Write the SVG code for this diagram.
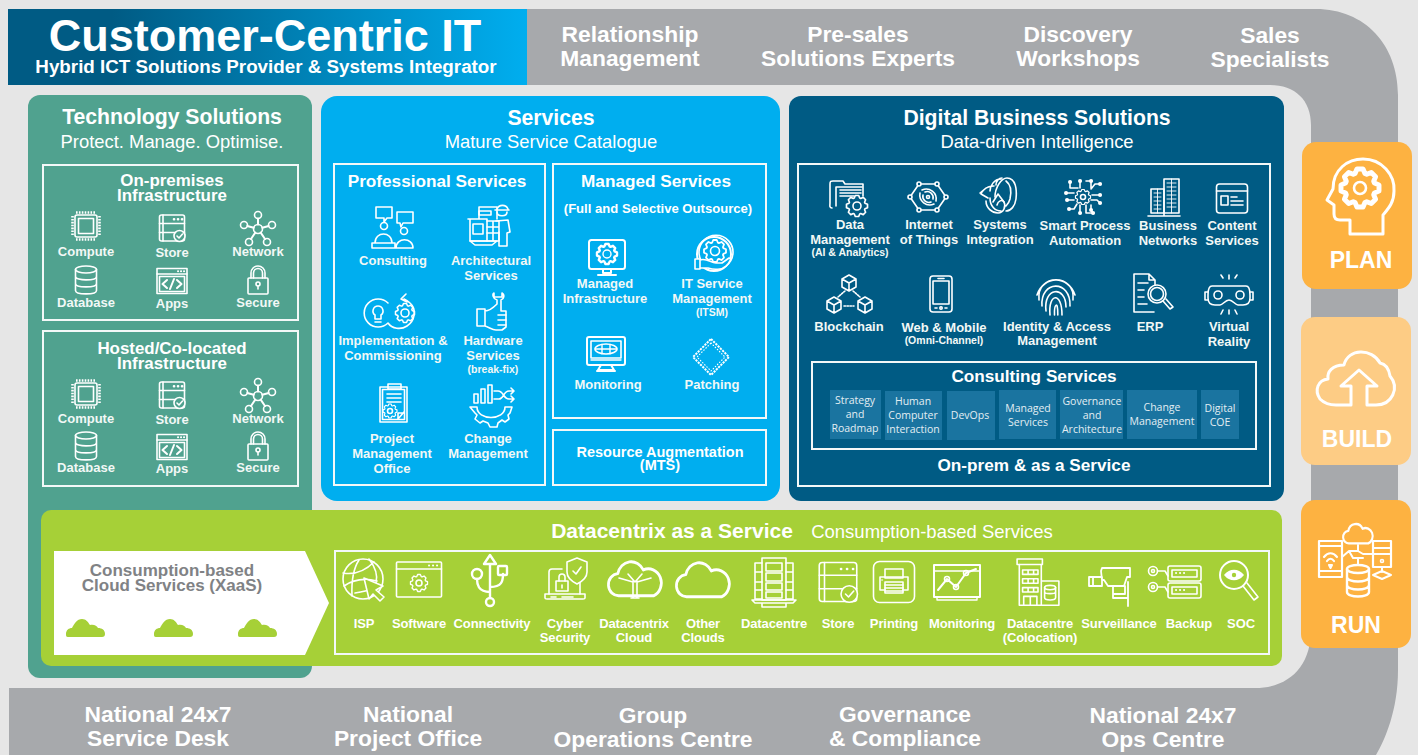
<svg xmlns="http://www.w3.org/2000/svg" width="1418" height="755" viewBox="0 0 1418 755">
<style>
text{font-family:"Liberation Sans",Arial,sans-serif;text-anchor:middle;fill:#fff}
.b{font-weight:700}
.bn{font-weight:700;font-size:22.800px;fill:#fff}
.h{font-weight:700;font-size:21.200px}
.sub{font-size:18.400px}
.h2{font-weight:700;font-size:17.200px}
.h3{font-weight:700;font-size:16.900px}
.l{font-weight:700;font-size:13px;fill:#f2f8f6}
.m{font-weight:700;font-size:10.500px;fill:#f2f8f6}
.c{font-family:"Open Sans",sans-serif;font-size:10.500px;fill:#e3eef3}
.d{font-weight:700;font-size:13px;letter-spacing:-.1px}
.o{fill:none;stroke:#f3f8f8;stroke-width:2}
.t{fill:#1a74a0}
.i{fill:none;stroke:#fff;stroke-width:1.600;stroke-linejoin:round;stroke-linecap:round}
.i *{vector-effect:non-scaling-stroke}
.g{fill:#a6d037;stroke:#fff}
.cl{fill:#a6d037}
.pl{font-weight:700;font-size:23px}
</style>
<defs>
<linearGradient id="tg" x1="0" x2="1" y1="0" y2="0"><stop offset=".2" stop-color="#005b84"/><stop offset="1" stop-color="#00aeef"/></linearGradient>
<path id="gear" d="M-2.600-7.600-1.600-10 1.600-10 2.600-7.600 3.530-7.210 5.940-8.200 8.200-5.940 7.210-3.530 7.600-2.600 10-1.600 10 1.600 7.600 2.600 7.210 3.530 8.200 5.940 5.940 8.200 3.530 7.210 2.600 7.600 1.600 10-1.600 10-2.600 7.600-3.530 7.210-5.940 8.200-8.200 5.940-7.210 3.530-7.600 2.600-10 1.600-10-1.600-7.600-2.600-7.210-3.530-8.200-5.940-5.940-8.200-3.530-7.210Z"/>
<path id="cloud" d="M-10 8a6 6 0 0 1-1-12a8 8 0 0 1 15-2a6.500 6.500 0 0 1 6 14Z"/>
<g id="i-compute" class="i"><rect x="-11" y="-11" width="22" height="22" rx="2"/><rect x="-7.500" y="-7.500" width="15" height="15"/><path d="M-10-13.500H10M-10 13.500H10M-13.500-10V10M13.500-10V10" stroke-width="2.600" stroke-linecap="butt" stroke-dasharray="1.600 1.300"/></g>
<g id="i-store" class="i"><rect x="-12.500" y="-13" width="25" height="26" rx="2"/><path d="M-12.500-4.500H12.500M-12.500 4.500H12.500M-9-13V13"/><path d="M2-8.700h.1M6-8.700h.1M10-8.700h.1" stroke-width="2.600"/><circle cx="7.500" cy="8" r="5.500" fill="currentColor" stroke="#fff"/><path d="M5 8l2 2 3.500-4"/></g>
<g id="i-network" class="i"><circle r="4.500"/><circle cy="-14" r="3.500"/><circle cx="-14" cy="-4" r="3.500"/><circle cx="14" cy="-4" r="3.500"/><circle cx="-9" cy="13" r="3.500"/><circle cx="9" cy="13" r="3.500"/><path d="M0-4.500V-10.500M-4.300-1.300-10.700-3M4.300-1.300 10.700-3M-2.700 3.600-7 10M2.700 3.600 7 10" stroke-width="2"/></g>
<g id="i-database" class="i"><ellipse cy="-10.500" rx="10.500" ry="3.500"/><path d="M-10.500-10.500V10.500C-10.500 15 10.500 15 10.500 10.500V-10.500M-10.500-3.500C-10.500 1 10.500 1 10.500-3.500M-10.500 3.500C-10.500 8 10.500 8 10.500 3.500"/></g>
<g id="i-apps" class="i"><rect x="-15" y="-12.500" width="30" height="25"/><path d="M-15-7H15"/><rect x="-12.500" y="-4.500" width="25" height="15"/><path d="M-5-1-9.500 3-5 7M5-1 9.500 3 5 7M2-2-2 8" stroke-width="2"/><path d="M6-9.700h.1M9-9.700h.1M12-9.700h.1" stroke-width="2"/></g>
<g id="i-secure" class="i"><rect x="-10" y="-2" width="20" height="16" rx="1"/><path d="M-7-2V-7A7 7 0 0 1 7-7V-2M-4.500-2V-7A4.500 4.500 0 0 1 4.500-7V-2"/><circle cy="4" r="2"/><path d="M0 6V9"/></g>
<g id="i-consult" class="i"><path d="M-17-21H-1V-10H-6L-9-6-9-10H-17ZM4-16H20V-5H10L8-1 7-5H4Z"/><circle cx="-9" cy="-2" r="3.500"/><circle cx="11" cy="3" r="3.500"/><path d="M-18 15C-18 3-1 3-1 15M3 20C3 9 20 9 20 20M-21 15H2V20H20M-21 15V20H3"/></g>
<g id="i-arch" class="i"><path d="M-19-8H-2V14H-19ZM-21-8H-10V-20H8V-8M-16-3H-6V7H-16Z"/><path d="M-2-6H10V14H-2M-2 0H10M-2 6H10M4-6V14M-10-16H2V-12H-10Z"/><path d="M8-18A6 6 0 0 1 19-18M6-17H20M8-15C8-10 18-10 18-15M7-6L19-7 21 5 18 6V19H10V5M-19 14H8L3 18H-14Z"/></g>
<g id="i-impl" class="i"><path d="M-3-9A14 14 0 1 0-3 11C1 17 10 18 16 14C24 9 26-3 19-9C17-11 15-12 13-13M15-18 10-13 16-10"/><path d="M-13-6A5 5 0 0 0-16 3V7H-10V3A5 5 0 0 0-13-6ZM-16 10H-10"/><use href="#gear" transform="translate(14,1) scale(.95)"/><circle cx="14" cy="1" r="4"/></g>
<g id="i-hw" class="i"><path d="M-16-3H-8V14H-16ZM-8-1C-3-1 1-5 4-8V-12C0-13-1-18 1-19V-15H9V-19C12-17 11-13 8-12V-1H13V15L9 18H3C-1 18-4 15-8 14"/><path d="M5 3H13M5 8H13M5 13H13"/></g>
<g id="i-pmo" class="i"><rect x="-14" y="-17" width="27" height="35"/><rect x="-11.500" y="-14.500" width="22" height="30"/><rect x="-6" y="-20" width="13" height="5"/><path d="M-7-10H7M-7-6H7M-7-2H7M4 15 10 8M4 15V9H10"/><use href="#gear" transform="translate(-4,7) scale(.7)"/><circle cx="-4" cy="7" r="2.500"/></g>
<g id="i-change" class="i"><path d="M-17-11H-13V-2H-17ZM-10-16H-6V-2H-10ZM-3-20H1V-2H-3ZM3-14H7C13-14 12-6 18-6H22M3-6H8C13-6 12-14 18-14H22M20-17 23-14 20-11M20-9 23-6 20-3"/><path d="M-21 2H-14C-14 16 14 16 14 2H21L19 8 17 10 18 14 14 17 11 15 7 18 6 22H-1L-3 18-8 16-11 18-16 14-14 10-16 8Z"/></g>
<g id="i-minfra" class="i"><rect x="-18" y="-16" width="36" height="29" rx="2.500" stroke-width="2"/><path d="M-4 13V17H4V13M-9 19H9" stroke-width="2"/><use href="#gear" transform="translate(0,-2) scale(1)" stroke-width="2.400"/><circle cy="-2" r="4" stroke-width="1.400"/></g>
<g id="i-itsm" class="i"><path d="M-8 12A17 17 0 1 1 12 12"/><circle r="17" stroke-width="2"/><use href="#gear" transform="translate(1,-3) scale(1.100)"/><circle cx="1" cy="-3" r="4.500"/><path d="M-19 5H-14V15H-19ZM-14 6C-8 4-4 8 2 9H8L15 4C18 4 16 8 12 12C8 16 0 16-6 14H-14" fill="#00aeef"/></g>
<g id="i-mon" class="i"><rect x="-19" y="-17" width="38" height="28" rx="2" stroke-width="2"/><rect x="-15" y="-13" width="30" height="17"/><ellipse cy="-5" rx="11" ry="5"/><path d="M-4-9.500V-.5M4-9.500V-.5M-10-5H10M-15 6H15" stroke-width="1.400"/><path d="M-5 11-8 16H8L5 11M-9 17H9" stroke-width="2"/></g>
<g id="i-patch" class="i"><path d="M0-18 18 0 0 18-18 0Z" stroke-width="2" stroke-linecap="butt" stroke-dasharray="2.200 1"/><path d="M0-14 14 0 0 14-14 0Z" stroke-dasharray=".5 2.500" stroke-width="1.200"/></g>
<g id="i-data" class="i"><path d="M-17 10C-20 10-19 7-19 5V-14C-19-17-18-17-16-17H-6L-4-14H14V-2"/><path d="M-13 8V-11H13M-9-8H12M-9-5H12M-9-2H5"/><use href="#gear" transform="translate(8,8) scale(1.050)" fill="#005b84"/><circle cx="8" cy="8" r="4"/></g>
<g id="i-iot" class="i"><path d="M-9-13H9L18 0 9 13H-9L-18 0Z"/><circle cx="-9" cy="-13" r="2" fill="#005b84"/><circle cx="9" cy="-13" r="2" fill="#005b84"/><circle cx="18" r="2" fill="#005b84"/><circle cx="9" cy="13" r="2" fill="#005b84"/><circle cx="-9" cy="13" r="2" fill="#005b84"/><circle cx="-18" r="2" fill="#005b84"/><circle r="1.500"/><path d="M-3-5A6 6 0 0 1 5 2M-6-7A10 10 0 0 1 8 4M3 5A6 6 0 0 1-5-2M6 7A10 10 0 0 1-8-4"/></g>
<g id="i-sys" class="i"><path d="M-4-10C-14-10-17-2-17-2L-10 2M3-17C-4-17-8-10-8-5M-8 2C-8 10-3 15 3 15M-3 1C-3-8 3-18 9-18C18-18 19-6 18 3 17 10 13 15 8 15M-2-11C-2-15 1-18 4-18M8-15C12-12 14-6 12 3C11 7 10 8 8 10M-12-8-18-3M-12 5C-12 12-6 17 0 17 6 17 8 10 6 6 4 3 0 5-1 9"/><path d="M-5 6 0-2 6 6"/></g>
<g id="i-spa" class="i"><use href="#gear" transform="scale(.75)"/><circle r="2.500"/><path d="M-13-15V-9H-5M-17-4H-9M-16 3H-9M-14 12H-9L-6 7M-3 16V8M3 16H10M3 16V8M8-8L12-13H17M9-2H17M8 3H14L17 6M8 8V13M-3-16V-9M3-16H8V-9"/><path d="M-13-15h.1M-17-4h.1M-16 3h.1M-14 12h.1M-3 16h.1M10 16h.1M17-13h.1M17-2h.1M17 6h.1M8 13h.1M-3-16h.1M8-16h.1" stroke-width="4"/></g>
<g id="i-bn" class="i"><rect x="-13" y="-10" width="13" height="24"/><rect x="0" y="-20" width="15" height="34"/><path d="M-10-6H-3M-10-2H-3M-10 2H-3M-10 6H-3M-10 10H-3M3-16H12M3-12H12M3-8H12M3-4H12M3 0H12M3 4H12M3 8H12M7.500-20V14M-6.500-10V14" stroke-width=".9"/><path d="M-16 17H16M0 14V17"/></g>
<g id="i-content" class="i"><rect x="-15.500" y="-15" width="31" height="29" rx="3"/><path d="M-15.500-8H15.500"/><rect x="-11" y="-3" width="7" height="9"/><path d="M-1-2H5M-1 2H11M-1 6H11"/></g>
<g id="i-block" class="i"><path d="M0-23 7-19V-11L0-7-7-11V-19ZM0-15V-7M0-15 7-19M0-15-7-19M-15-1-8 3V11L-15 15-22 11V3ZM-15 7V15M-15 7-8 3M-15 7-22 3M16-1 23 3V11L16 15 9 11V3ZM16 7V15M16 7 9 3M16 7 23 3"/><path d="M-5 8H5M-4-7-11-1M4-7 11-1" stroke-dasharray="1.500 1.500"/></g>
<g id="i-mob" class="i"><rect x="-11" y="-18" width="22" height="36" rx="3"/><rect x="-8" y="-13" width="16" height="23"/><path d="M-3-15.500H3M-6 14H-4M4 14H6"/><circle cy="14" r="1.200"/></g>
<g id="i-finger" class="i"><path d="M-17 3C-20-24 20-24 17 3M-14 9C-16-17 15-18 14 9M-10 14C-13-10 10-12 10 10M-6 18C-8-4 6-6 6 18M-1.500 18C-2 8 2 2 1.800 18M-19-2C-12-22 12-22 19-2"/></g>
<g id="i-erp" class="i"><path d="M1 18H-19V-20H-4L2-14V-9M-4-20V-14H2M-15-11H-5M-15-4H-9M-15 3H-9M-15 10H-6"/><circle cx="4" cy="0" r="9"/><circle cx="4" cy="0" r="6.500"/><path d="M10 7 17 15 20 13 13 5"/></g>
<g id="i-vr" class="i"><path d="M-17-9H17C20-9 21-6 21 0V3C21 8 18 10 14 10H9C6 10 4 5 0 5C-4 5-6 10-9 10H-14C-18 10-21 8-21 3V0C-21-6-20-9-17-9ZM-21-3H-24V5H-21M21-3H24V5H21"/><circle cx="-11" cy="0" r="4"/><circle cx="11" cy="0" r="4"/><path d="M0-20V-16M-8-20-6-17M8-20 6-17M0 15V19M-8 19-6 15M8 19 6 15"/></g>
<g id="i-isp" class="i"><circle r="20" cx="-1" cy="-1"/><path d="M-21-7Q-4-4 10-18M-20 6Q-6-4 13 1M-12 16Q-13-8-5-20M5-21Q15-8 12 3M-9 13Q3 11 8 9"/><path d="M0-2 19 6 12 10 20 17 16 21 9 14 5 19Z" class="g"/></g>
<g id="i-soft" class="i"><rect x="-22.500" y="-18" width="45" height="35" rx="1"/><path d="M-22.500-11H22.500"/><path d="M10-14.500h.1M14-14.500h.1M18-14.500h.1" stroke-width="2"/><use href="#gear" transform="translate(0,3) scale(.85)"/><circle cy="3" r="3"/></g>
<g id="i-usb" class="i" stroke-width="2"><path d="M0 18V-16M-6-16 0-25 6-16ZM0 12C-12 12-13 4-13-1M0 7C12 7 13 1 13-6" stroke-width="2.400"/><circle cx="-13" cy="-6" r="5" stroke-width="2.400"/><rect x="8" y="-14" width="9" height="9" rx="1" stroke-width="2.400"/><circle cy="22" r="4" stroke-width="2.400"/></g>
<g id="i-cyber" class="i"><path d="M-16 12V-10Q-16-13-13-13H-3M15-4V12"/><path d="M-20 12H20V16Q20 17 18 17H-18Q-20 17-20 16ZM-14 15H-9M-3 15H8"/><rect x="-9" y="-1" width="12" height="10"/><path d="M-6-1V-5A3 3 0 0 1 0-5V-1"/><path d="M-3 3V6"/><path d="M12-24 22-20V-10C22-4 16 0 12 2 8 0 2-4 2-10V-20Z" class="g"/><path d="M8-11 11-8 16-15"/></g>
<g id="i-dcc" class="i"><use href="#cloud" transform="translate(1.500,-1) scale(1.700 1.850)"/><path d="M-2 0-16-4M2 0 16-4M-2-1V16M2-1V16M-4 16H4M-7-8 0 0 7-8"/></g>
<g id="i-other" class="i"><use href="#cloud" transform="translate(1.500,0) scale(1.700 1.850)"/></g>
<g id="i-dc" class="i"><rect x="-12" y="-24" width="24" height="42"/><rect x="-8" y="-19" width="16" height="8"/><rect x="-8" y="-9" width="16" height="8"/><rect x="-8" y="1" width="16" height="7"/><rect x="-8" y="10" width="16" height="6"/><path d="M-12-19H-19V17H-12M12-19H19V17H12M-19-10H-12M-19 0H-12M-19 8H-12M19-10H12M19 0H12M19 8H12M-22 18H22L19 21H-19ZM-12 21V25H12V21"/></g>
<g id="i-print" class="i"><rect x="-20.500" y="-20.500" width="41" height="41" rx="6"/><rect x="-9" y="-13" width="18" height="9"/><path d="M-9 8H-14V-5H14V8H9"/><rect x="-9" y="0" width="18" height="11"/><path d="M-9 3H9M-9 6H9M-9 9H9M-12-2h.1"/></g>
<g id="i-monit" class="i" stroke-width="2"><rect x="-23" y="-17" width="46" height="32" stroke-width="2"/><path d="M-23-11H23M-20 15V18H20V15" stroke-width="1.400"/><path d="M-19 8-10-3-1 5 9-9 19-13" stroke-width="2"/><circle cx="-10" cy="-3" r="2.500" fill="none"/><circle cx="-1" cy="5" r="2.500"/><circle cx="9" cy="-9" r="2.500"/></g>
<g id="i-col" class="i"><rect x="-19" y="-20" width="23" height="5"/><path d="M-17-15V22H3V-15M3 0H19V22H3"/><path d="M-14-10H0V-6H-14ZM-14-2H0V2H-14ZM-14 6H0V10H-14ZM-13 22V14H-1V22M-7 14V22M-9-10V-6M-4-10V-6M-9-2V2M-4-2V2M-9 6V10M-4 6V10"/><ellipse cx="11" cy="6" rx="5" ry="2"/><path d="M6 6V15C6 18 16 18 16 15V6M6 10C6 12 16 12 16 10"/></g>
<g id="i-surv" class="i" stroke-width="2"><path d="M-8-15H20V-6H17L14 3H-2L-6-3H-8L-9-12ZM-8-6H-17V3H-8V-6ZM-17-6H-21V3H-17M3 3V11H15V3M3 11V15H18V23M18-1V23" stroke-width="1.800"/></g>
<g id="i-backup" class="i"><rect x="-11" y="-17" width="33" height="15" rx="2"/><rect x="-11" y="0" width="33" height="15" rx="2"/><rect x="-7" y="-13" width="25" height="7"/><rect x="-7" y="4" width="25" height="7"/><path d="M-3-10h.1M1-10h.1M5-10h.1M-3 7h.1M1 7h.1M5 7h.1" stroke-width="2"/><circle cx="-26" cy="-12" r="4.500"/><circle cx="-26" cy="4" r="4.500"/><circle cx="-26" cy="-12" r="1.500"/><circle cx="-26" cy="4" r="1.500"/><path d="M-21-12H-14L-11-7M-21 4H-14L-11 9"/></g>
<g id="i-soc" class="i"><circle cx="-6" cy="-6" r="14" stroke-width="2"/><path d="M-15-6C-10-12-2-12 3-6C-2 0-10 0-15-6Z" fill="#fff"/><circle cx="-6" cy="-6" r="2.200" fill="#a6d037" stroke="none"/><path d="M3 5 14 19 18 16 7 2" stroke-width="1.600"/></g>
<g id="i-head" class="i"><path d="M-10 37V23H-20Q-26 23-26 17V8L-33 3-27-8C-27-28-12-38 3-38C22-38 35-22 34-6C34 6 28 12 23 18V37Z" stroke-width="3"/><use href="#gear" transform="translate(0,-9) scale(1.900)" stroke-width="2.600"/><circle cy="-9" r="6" stroke-width="2.600"/></g>
<g id="i-up" class="i"><path d="M-7 27V8H-17L1-8 19 8H9V27H18C34 27 42 10 32-2 31-8 28-14 22-15 14-30-10-30-14-13-26-13-31-6-30 1-40 2-44 12-38 21-34 25-29 27-22 27Z" stroke-width="3"/></g>
<g id="i-run" class="i" stroke-width="2"><use href="#cloud" transform="translate(3.800,-27) scale(.95 1.050)" stroke-width="2.200"/><path d="M-36-21H-13V15H-36ZM-36-16H-13M-36 9H-13M18-21H36V5H18ZM18-14H36M18-8H36" stroke-width="2.200"/><path d="M-31-5C-27-10-22-10-18-5M-28-1C-26-4-23-4-21-1" stroke-width="2.200"/><path d="M-26 3H-23L-24.500 6Z" stroke-width="2"/><circle cx="27" cy="-1" r="1.500"/><path d="M-13-5-6-11H0M18-8H8L3-11H0M3-17V-11M-6-11-2-4H8M3-4V2M27 5V10M18 13 27 9 36 13 27 17Z" stroke-width="2"/><ellipse cx="3" cy="7" rx="11" ry="4" stroke-width="2.400"/><path d="M-8 7V30C-8 36 14 36 14 30V7M-8 15C-8 21 14 21 14 15M-8 23C-8 29 14 29 14 23" stroke-width="2.400"/></g>
<g id="i-cl"><path class="cl" d="M-18 10C-20 10-20 9-20 7C-20 3-17 1-14 1C-12-3-9-8-4-8C0-8 2-5 4-2C8-3 11-1 12 1C16 1 19 3 19 7C19 9 18 10 16 10Z"/></g>
</defs>
<rect width="1418" height="755" fill="#e6e6e6"/>
<g id="band"><path d="M520 9H1316C1365 9 1398 45 1398 95V670C1398 710 1385 740 1376 755H9V688H1255C1290 688 1311 665 1311 630V125C1311 100 1295 85 1270 85H520Z" fill="#a7a9ac"/></g>
<g id="header"><rect x="8" y="9" width="519" height="76" fill="url(#tg)"/><text x="265" y="51" class="b" font-size="45">Customer-Centric IT</text><text x="266" y="73" class="b" font-size="18.800">Hybrid ICT Solutions Provider &amp; Systems Integrator</text></g>
<g id="top-items">
<g id="relationship"><text class="bn"><tspan x="630" y="42">Relationship</tspan><tspan x="630" y="66">Management</tspan></text></g>
<g id="presales"><text class="bn"><tspan x="858" y="42">Pre-sales</tspan><tspan x="858" y="66">Solutions Experts</tspan></text></g>
<g id="discovery"><text class="bn"><tspan x="1078" y="42">Discovery</tspan><tspan x="1078" y="66">Workshops</tspan></text></g>
<g id="sales"><text class="bn"><tspan x="1270" y="43">Sales</tspan><tspan x="1270" y="67">Specialists</tspan></text></g>
</g>
<g id="bottom-items">
<g id="servicedesk"><text class="bn"><tspan x="158" y="722">National 24x7</tspan><tspan x="158" y="746">Service Desk</tspan></text></g>
<g id="projectoffice"><text class="bn"><tspan x="408" y="722">National</tspan><tspan x="408" y="746">Project Office</tspan></text></g>
<g id="opscentre"><text class="bn"><tspan x="653" y="723">Group</tspan><tspan x="653" y="747">Operations Centre</tspan></text></g>
<g id="governance"><text class="bn"><tspan x="905" y="722">Governance</tspan><tspan x="905" y="746">&amp; Compliance</tspan></text></g>
<g id="natops"><text class="bn"><tspan x="1163" y="723">National 24x7</tspan><tspan x="1163" y="747">Ops Centre</tspan></text></g>
</g>
<g id="technology" color="#50a28f">
<rect x="28" y="95" width="284" height="583" rx="12" fill="#50a28f"/>
<text x="172" y="124" class="h">Technology Solutions</text><text x="172" y="148" class="sub">Protect. Manage. Optimise.</text>
<g id="onprem"><rect class="o" x="43" y="165" width="255" height="155"/><text class="h3"><tspan x="172" y="186">On-premises</tspan><tspan x="172" y="201">Infrastructure</tspan></text>
<use href="#i-compute" x="86" y="226"/><use href="#i-store" x="172" y="228"/><use href="#i-network" x="258" y="229"/><use href="#i-database" x="86" y="280"/><use href="#i-apps" x="172" y="281"/><use href="#i-secure" x="258" y="280"/>
<text class="l" x="86" y="256">Compute</text><text class="l" x="172" y="257">Store</text><text class="l" x="258" y="256">Network</text><text class="l" x="86" y="307">Database</text><text class="l" x="172" y="308">Apps</text><text class="l" x="258" y="307">Secure</text></g>
<g id="hosted"><rect class="o" x="43" y="331" width="255" height="155"/><text class="h3"><tspan x="172" y="354">Hosted/Co-located</tspan><tspan x="172" y="369">Infrastructure</tspan></text>
<use href="#i-compute" x="86" y="394"/><use href="#i-store" x="172" y="395"/><use href="#i-network" x="258" y="396"/><use href="#i-database" x="86" y="446"/><use href="#i-apps" x="172" y="447"/><use href="#i-secure" x="258" y="446"/>
<text class="l" x="86" y="423">Compute</text><text class="l" x="172" y="424">Store</text><text class="l" x="258" y="423">Network</text><text class="l" x="86" y="472">Database</text><text class="l" x="172" y="473">Apps</text><text class="l" x="258" y="472">Secure</text></g>
</g>
<g id="services">
<rect x="321" y="96" width="459" height="405" rx="16" fill="#00aeef"/>
<text x="551" y="125" class="h">Services</text><text x="551" y="148" class="sub">Mature Service Catalogue</text>
<g id="professional"><rect class="o" x="334" y="164" width="211" height="321"/><text x="437" y="187" class="h2">Professional Services</text>
<use href="#i-consult" x="393" y="228"/><use href="#i-arch" x="489" y="227"/><use href="#i-impl" x="391" y="312"/><use href="#i-hw" x="493" y="312"/><use href="#i-pmo" x="394" y="404"/><use href="#i-change" x="491" y="405"/>
<text class="l" x="393" y="265">Consulting</text><text class="l"><tspan x="491" y="265">Architectural</tspan><tspan x="491" y="280">Services</tspan></text>
<text class="l"><tspan x="393" y="345">Implementation &amp;</tspan><tspan x="393" y="360">Commissioning</tspan></text>
<text class="l"><tspan x="493" y="345">Hardware</tspan><tspan x="493" y="360">Services</tspan></text><text class="m" x="493" y="373">(break-fix)</text>
<text class="l"><tspan x="392" y="443">Project</tspan><tspan x="392" y="458">Management</tspan><tspan x="392" y="473">Office</tspan></text>
<text class="l"><tspan x="488" y="443">Change</tspan><tspan x="488" y="458">Management</tspan></text></g>
<g id="managed"><rect class="o" x="553" y="164" width="213" height="254"/><text x="656" y="187" class="h2">Managed Services</text><text x="658" y="213" class="b" font-size="13.100">(Full and Selective Outsource)</text>
<use href="#i-minfra" x="607" y="256"/><use href="#i-itsm" x="714" y="254"/><use href="#i-mon" x="606" y="354"/><use href="#i-patch" x="711" y="357"/>
<text class="l"><tspan x="605" y="288">Managed</tspan><tspan x="605" y="303">Infrastructure</tspan></text>
<text class="l"><tspan x="712" y="288">IT Service</tspan><tspan x="712" y="303">Management</tspan></text><text class="m" x="712" y="316">(ITSM)</text>
<text class="l" x="608" y="389">Monitoring</text><text class="l" x="712" y="389">Patching</text></g>
<g id="resource"><rect class="o" x="553" y="430" width="213" height="55"/><text class="b" font-size="14.500"><tspan x="660" y="457">Resource Augmentation</tspan><tspan x="660" y="470">(MTS)</tspan></text></g>
</g>
<g id="digital">
<rect x="789" y="96" width="495" height="405" rx="12" fill="#005b84"/>
<text x="1037" y="125" class="h">Digital Business Solutions</text><text x="1037" y="148" class="sub">Data-driven Intelligence</text>
<rect class="o" x="798" y="164" width="472" height="322"/>
<use href="#i-data" x="849" y="198"/><use href="#i-iot" x="928" y="197"/><use href="#i-sys" x="998" y="196"/><use href="#i-spa" x="1083" y="197"/><use href="#i-bn" x="1164" y="199"/><use href="#i-content" x="1232" y="199"/>
<text class="l"><tspan x="850" y="229">Data</tspan><tspan x="850" y="244">Management</tspan></text><text class="m" x="850" y="256">(AI &amp; Analytics)</text>
<text class="l"><tspan x="929" y="229">Internet</tspan><tspan x="929" y="244">of Things</tspan></text>
<text class="l"><tspan x="1000" y="229">Systems</tspan><tspan x="1000" y="244">Integration</tspan></text>
<text class="l"><tspan x="1085" y="230">Smart Process</tspan><tspan x="1085" y="245">Automation</tspan></text>
<text class="l"><tspan x="1168" y="230">Business</tspan><tspan x="1168" y="245">Networks</tspan></text>
<text class="l"><tspan x="1232" y="230">Content</tspan><tspan x="1232" y="245">Services</tspan></text>
<use href="#i-block" x="849" y="298"/><use href="#i-mob" x="941" y="294"/><use href="#i-finger" x="1056" y="297"/><use href="#i-erp" x="1153" y="294"/><use href="#i-vr" x="1229" y="295"/>
<text class="l" x="849" y="331">Blockchain</text>
<text class="l" x="944" y="332">Web &amp; Mobile</text><text class="m" x="944" y="344">(Omni-Channel)</text>
<text class="l"><tspan x="1057" y="331">Identity &amp; Access</tspan><tspan x="1057" y="345">Management</tspan></text>
<text class="l" x="1150" y="331">ERP</text>
<text class="l"><tspan x="1229" y="331">Virtual</tspan><tspan x="1229" y="346">Reality</tspan></text>
<g id="consulting"><rect class="o" x="812" y="362" width="444" height="87"/><text x="1034" y="382" class="h2">Consulting Services</text>
<rect class="t" x="830" y="390" width="51" height="49"/><rect class="t" x="885" y="391" width="57" height="49"/><rect class="t" x="947" y="391" width="48" height="49"/><rect class="t" x="999" y="390" width="57" height="49"/><rect class="t" x="1060" y="390" width="63" height="49"/><rect class="t" x="1127" y="390" width="70" height="49"/><rect class="t" x="1201" y="390" width="38" height="49"/>
<text class="c"><tspan x="855" y="404">Strategy</tspan><tspan x="855" y="418">and</tspan><tspan x="855" y="432">Roadmap</tspan></text>
<text class="c"><tspan x="913" y="405">Human</tspan><tspan x="913" y="419">Computer</tspan><tspan x="913" y="433">Interaction</tspan></text>
<text class="c" x="970" y="419">DevOps</text>
<text class="c"><tspan x="1028" y="412">Managed</tspan><tspan x="1028" y="426">Services</tspan></text>
<text class="c"><tspan x="1092" y="405">Governance</tspan><tspan x="1092" y="419">and</tspan><tspan x="1092" y="433">Architecture</tspan></text>
<text class="c"><tspan x="1162" y="411">Change</tspan><tspan x="1162" y="425">Management</tspan></text>
<text class="c"><tspan x="1220" y="412">Digital</tspan><tspan x="1220" y="426">COE</tspan></text></g>
<text x="1034" y="471" class="h2">On-prem &amp; as a Service</text>
</g>
<g id="xaas" color="#a6d037">
<rect x="41" y="510" width="1241" height="156" rx="10" fill="#a6d037"/>
<text x="672" y="538" class="b" font-size="21">Datacentrix as a Service</text><text x="932" y="538" font-size="18.500">Consumption-based Services</text>
<g id="cloud-services"><path d="M54 551H305L329 603 305 655H54Z" fill="#fff"/><text class="b" font-size="17" style="fill:#808285"><tspan x="172" y="576">Consumption-based</tspan><tspan x="172" y="591">Cloud Services (XaaS)</tspan></text>
<use href="#i-cl" x="86" y="627"/><use href="#i-cl" x="174" y="627"/><use href="#i-cl" x="258" y="627"/></g>
<g id="consumption"><rect class="o" x="335" y="551" width="934" height="103"/>
<use href="#i-isp" x="364" y="580"/><use href="#i-soft" x="419" y="580"/><use href="#i-usb" x="490" y="580"/><use href="#i-cyber" x="565" y="582"/><use href="#i-dcc" x="635" y="582"/><use href="#i-other" x="703" y="582"/><use href="#i-dc" x="774" y="582"/><use href="#i-store" transform="translate(838,582) scale(1.500)"/><use href="#i-print" x="894" y="582"/><use href="#i-monit" x="957" y="582"/><use href="#i-col" transform="translate(1038,581) scale(1.100)"/><use href="#i-surv" x="1110" y="583"/><use href="#i-backup" x="1179" y="583"/><use href="#i-soc" x="1240" y="581"/>
<text class="d" x="364" y="628">ISP</text><text class="d" x="419" y="628">Software</text><text class="d" x="492" y="628">Connectivity</text><text class="d"><tspan x="565" y="628">Cyber</tspan><tspan x="565" y="642">Security</tspan></text><text class="d"><tspan x="634" y="628">Datacentrix</tspan><tspan x="634" y="642">Cloud</tspan></text><text class="d"><tspan x="703" y="628">Other</tspan><tspan x="703" y="642">Clouds</tspan></text><text class="d" x="774" y="628">Datacentre</text><text class="d" x="838" y="628">Store</text><text class="d" x="894" y="628">Printing</text><text class="d" x="962" y="628">Monitoring</text><text class="d"><tspan x="1040" y="628">Datacentre</tspan><tspan x="1040" y="642">(Colocation)</tspan></text><text class="d" x="1119" y="628">Surveillance</text><text class="d" x="1189" y="628">Backup</text><text class="d" x="1241" y="628">SOC</text></g>
</g>
<g id="plan"><rect x="1302" y="142" width="110" height="147" rx="14" fill="#fdb241"/><use href="#i-head" x="1360" y="197"/><text x="1361" y="268" class="pl">PLAN</text></g>
<g id="build"><rect x="1301" y="317" width="110" height="148" rx="14" fill="#fdcc85"/><use href="#i-up" x="1358" y="378"/><text x="1357" y="447" class="pl">BUILD</text></g>
<g id="run"><rect x="1301" y="500" width="110" height="148" rx="14" fill="#fdb241"/><use href="#i-run" x="1355" y="562"/><text x="1356" y="633" class="pl">RUN</text></g>
</svg>
